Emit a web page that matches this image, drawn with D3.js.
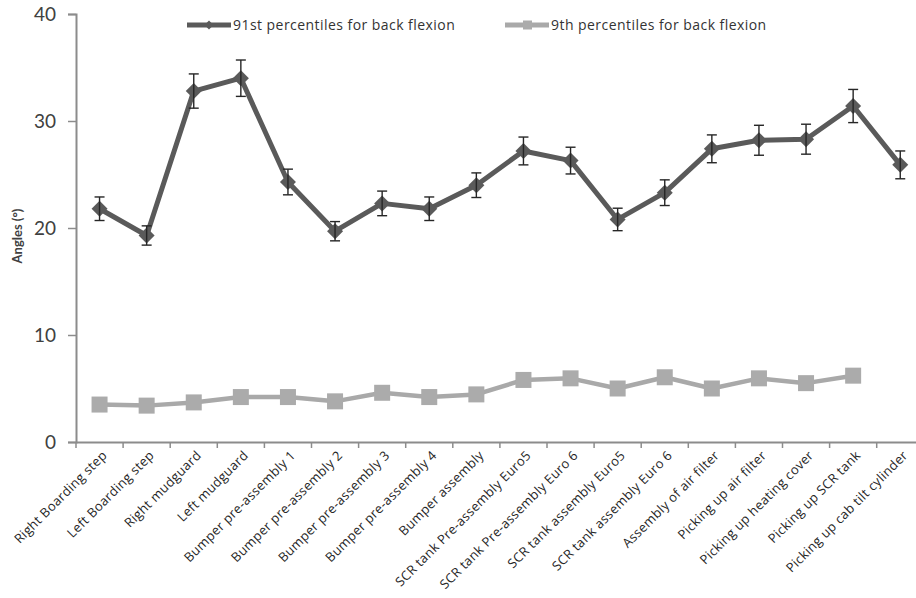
<!DOCTYPE html>
<html>
<head>
<meta charset="utf-8">
<script src="https://cdn.jsdelivr.net/npm/d3@7"></script>
<style>
  html, body { margin: 0; padding: 0; background: #fff; }
  svg { display: block; }
</style>
</head>
<body>
<svg id="chart" width="916" height="598"></svg>
<script>
const categories = [
  "Right Boarding step", "Left Boarding step", "Right mudguard", "Left mudguard",
  "Bumper pre-assembly 1", "Bumper pre-assembly 2", "Bumper pre-assembly 3", "Bumper pre-assembly 4",
  "Bumper assembly", "SCR tank Pre-assembly Euro5", "SCR tank Pre-assembly Euro 6",
  "SCR tank assembly Euro5", "SCR tank assembly Euro 6", "Assembly of air filter",
  "Picking up air filter", "Picking up heating cover", "Picking up SCR tank", "Picking up cab tilt cylinder"
];
const p91 = [21.8, 19.3, 32.8, 34.0, 24.3, 19.7, 22.3, 21.8, 24.0, 27.2, 26.3, 20.8, 23.3, 27.4, 28.2, 28.3, 31.4, 25.9];
const p91err = [1.1, 0.9, 1.6, 1.7, 1.2, 0.9, 1.15, 1.1, 1.15, 1.3, 1.25, 1.05, 1.2, 1.3, 1.4, 1.4, 1.55, 1.3];
const p9 = [3.5, 3.4, 3.7, 4.2, 4.2, 3.8, 4.6, 4.2, 4.45, 5.8, 5.95, 5.0, 6.05, 5.0, 5.95, 5.5, 6.2];
const yTicks = [0, 10, 20, 30, 40];
const seriesNames = ["91st percentiles for back flexion", "9th percentiles for back flexion"];
const yLabel = "Angles (°)";

const svg = d3.select("#chart");
const mLeft = 76, mTop = 14, mBottom = 442;
const x = d3.scaleBand().domain(categories).range([mLeft, mLeft + 18 * 47.1]).padding(0);
const y = d3.scaleLinear().domain([0, 40]).range([mBottom, mTop]);
const cx = d => x(d) + x.bandwidth() / 2;

const axisColor = "#8c8c8c";
const textColor = "#404040";
const lato = "Lato, sans-serif";
const openSans = "'Open Sans', sans-serif";

// Y axis
const yAxis = svg.append("g").attr("transform", `translate(${mLeft},0)`)
  .call(d3.axisLeft(y).tickValues(yTicks).tickSize(8).tickPadding(12));
yAxis.select(".domain").attr("stroke", axisColor).attr("stroke-width", 2);
yAxis.selectAll(".tick line").attr("stroke", axisColor).attr("stroke-width", 1.5);
yAxis.selectAll(".tick text").attr("fill", textColor).style("font-size", "19px").style("font-family", lato);

// X axis
const xAxis = svg.append("g").attr("transform", `translate(0,${mBottom})`)
  .call(d3.axisBottom(x).tickSize(0).tickFormat(""));
xAxis.select(".domain").attr("stroke", axisColor).attr("stroke-width", 2);
const bounds = categories.map(d => x(d));
xAxis.selectAll("line.bt").data(bounds).enter().append("line").attr("class", "bt")
  .attr("x1", d => d).attr("x2", d => d).attr("y1", 0).attr("y2", 6)
  .attr("stroke", axisColor).attr("stroke-width", 1.5);
xAxis.selectAll("text.cl").data(categories).enter().append("text").attr("class", "cl")
  .attr("transform", d => `translate(${cx(d) + 5},${11}) rotate(-45)`)
  .attr("text-anchor", "end").attr("dy", "0.35em")
  .style("font-size", "13px").style("letter-spacing", "0.3px").style("font-family", openSans).attr("fill", "#262626")
  .text(d => d);

// Y label
svg.append("text")
  .attr("transform", `translate(22,236) rotate(-90)`)
  .attr("text-anchor", "middle")
  .style("font-size", "13px").style("font-family", lato).attr("font-weight", "bold").attr("fill", textColor)
  .text(yLabel);

const line = d3.line().x(d => cx(d.c)).y(d => y(d.v));

// 9th series
const d9 = p9.map((v, i) => ({ c: categories[i], v }));
svg.append("path").datum(d9).attr("d", line).attr("fill", "none")
  .attr("stroke", "#a9a9a9").attr("stroke-width", 4.5).attr("stroke-linejoin", "round");
svg.selectAll("rect.m9").data(d9).enter().append("rect").attr("class", "m9")
  .attr("x", d => cx(d.c) - 8).attr("y", d => y(d.v) - 8)
  .attr("width", 16).attr("height", 16).attr("fill", "#ababab");

// 91st series
const d91 = p91.map((v, i) => ({ c: categories[i], v, e: p91err[i] }));
svg.append("path").datum(d91).attr("d", line).attr("fill", "none")
  .attr("stroke", "#5a5a5a").attr("stroke-width", 5).attr("stroke-linejoin", "round");
svg.selectAll("path.m91").data(d91).enter().append("path").attr("class", "m91")
  .attr("transform", d => `translate(${cx(d.c)},${y(d.v)})`)
  .attr("d", "M0,-8L8,0L0,8L-8,0Z").attr("fill", "#5a5a5a");
const eb = svg.selectAll("g.eb").data(d91).enter().append("g").attr("class", "eb")
  .attr("stroke", "#262626").attr("stroke-width", 1.4);
eb.append("line").attr("x1", d => cx(d.c)).attr("x2", d => cx(d.c))
  .attr("y1", d => y(d.v + d.e)).attr("y2", d => y(d.v - d.e));
eb.append("line").attr("x1", d => cx(d.c) - 5).attr("x2", d => cx(d.c) + 5)
  .attr("y1", d => y(d.v + d.e)).attr("y2", d => y(d.v + d.e));
eb.append("line").attr("x1", d => cx(d.c) - 5).attr("x2", d => cx(d.c) + 5)
  .attr("y1", d => y(d.v - d.e)).attr("y2", d => y(d.v - d.e));

// Legend
const leg = [
  { name: seriesNames[0], x0: 187, color: "#5a5a5a", shape: "diamond" },
  { name: seriesNames[1], x0: 505, color: "#a9a9a9", shape: "square" }
];
const ly = 25;
leg.forEach(l => {
  svg.append("line").attr("x1", l.x0).attr("x2", l.x0 + 44).attr("y1", ly).attr("y2", ly)
    .attr("stroke", l.color).attr("stroke-width", 5);
  if (l.shape === "diamond") {
    svg.append("path").attr("transform", `translate(${l.x0 + 22},${ly})`)
      .attr("d", "M0,-4.5L4.5,0L0,4.5L-4.5,0Z").attr("fill", l.color);
  } else {
    svg.append("rect").attr("x", l.x0 + 18).attr("y", ly - 4.5).attr("width", 9).attr("height", 9)
      .attr("fill", "#ababab");
  }
  svg.append("text").attr("x", l.x0 + 46).attr("y", ly).attr("dy", "0.35em")
    .style("font-size", "14px").style("letter-spacing", "0.45px").style("font-family", openSans)
    .attr("fill", "#333").text(l.name);
});
</script>
</body>
</html>
